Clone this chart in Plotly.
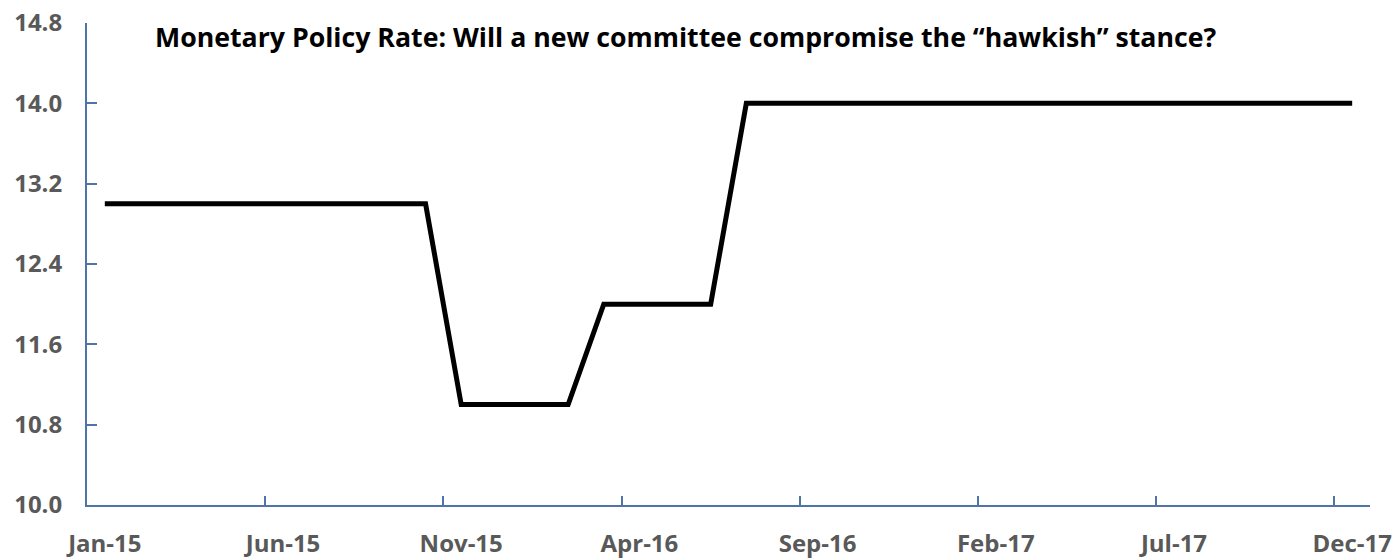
import plotly.graph_objects as go

months = ["Jan-15","Feb-15","Mar-15","Apr-15","May-15","Jun-15","Jul-15","Aug-15","Sep-15","Oct-15","Nov-15","Dec-15",
          "Jan-16","Feb-16","Mar-16","Apr-16","May-16","Jun-16","Jul-16","Aug-16","Sep-16","Oct-16","Nov-16","Dec-16",
          "Jan-17","Feb-17","Mar-17","Apr-17","May-17","Jun-17","Jul-17","Aug-17","Sep-17","Oct-17","Nov-17","Dec-17"]
rate = [13.0]*10 + [11.0]*4 + [12.0]*4 + [14.0]*18

tick_labels = ["Jan-15","Jun-15","Nov-15","Apr-16","Sep-16","Feb-17","Jul-17","Dec-17"]
y_ticks = [10.0, 10.8, 11.6, 12.4, 13.2, 14.0, 14.8]

title_text = "Monetary Policy Rate: Will a new committee compromise the \u201chawkish\u201d stance?"

idx = list(range(len(months)))
label_pos = [months.index(t) for t in tick_labels]
tick_marks = [p - 0.5 for p in label_pos[1:]]

axis_col = "#4F74A8"
lbl_col = "#595959"
FONT = "Open Sans"

L, R, T, B = 87, 24, 23, 54
W, H = 1394, 559

fig = go.Figure()
fig.add_trace(go.Scatter(x=idx, y=rate, mode="lines",
                         line=dict(color="black", width=5), showlegend=False, hoverinfo="skip"))
fig.add_trace(go.Scatter(x=[idx[0]], y=[rate[0]], xaxis="x2", mode="markers",
                         marker=dict(opacity=0), showlegend=False, hoverinfo="skip"))

fig.update_layout(
    width=W, height=H,
    margin=dict(l=L, r=R, t=T, b=B, autoexpand=False),
    paper_bgcolor="white", plot_bgcolor="white",
    xaxis=dict(range=[-0.5, len(months) - 0.5], tickmode="array", tickvals=label_pos, ticktext=tick_labels,
               ticks="", showgrid=False, zeroline=False, showline=True, linecolor=axis_col, linewidth=2,
               automargin=False,
               tickfont=dict(family=FONT, size=24, color=lbl_col, weight="bold"), ticklabelstandoff=16),
    xaxis2=dict(range=[-0.5, len(months) - 0.5], overlaying="x", tickmode="array", tickvals=tick_marks,
                ticks="inside", ticklen=9, tickwidth=2, tickcolor=axis_col, showticklabels=False,
                showgrid=False, zeroline=False, showline=False, anchor="y", side="bottom", automargin=False),
    yaxis=dict(range=[10.0, 14.8], tickmode="array", tickvals=y_ticks, ticktext=[f"{v:.1f}" for v in y_ticks],
               ticks="inside", ticklen=10, tickwidth=2, tickcolor=axis_col, showgrid=False, zeroline=False,
               showline=True, linecolor=axis_col, linewidth=2, automargin=False,
               tickfont=dict(family=FONT, size=24, color=lbl_col, weight="bold"), ticklabelstandoff=18),
    annotations=[dict(text=title_text, xref="paper", yref="paper", x=(153 - L) / (W - L - R), y=1.0,
                      xanchor="left", yanchor="top", yshift=7, showarrow=False,
                      font=dict(family=FONT, size=26.7, color="black", weight="bold"))],
)

fig.write_html("out.html")
